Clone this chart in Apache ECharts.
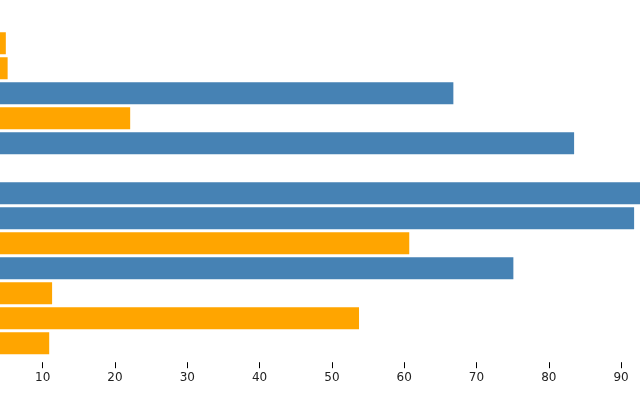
<!DOCTYPE html>
<html>
<head>
<meta charset="utf-8">
<script src="https://cdn.jsdelivr.net/npm/echarts@6/dist/echarts.min.js"></script>
<style>html,body{margin:0;padding:0;background:#fff}#c{width:640px;height:400px}</style>
</head>
<body>
<div id="c"></div>
<script>
var categories = ["a","b","c","d","e","f","g","h","i","j","k","l","m"];
var blueValues = [null,null,66.8,null,83.5,null,94.5,91.8,null,75.1,null,null,null];
var orangeValues = [4.9,5.15,null,22.1,null,null,null,null,60.7,null,11.3,53.75,10.9];
var tickValues = [0,10,20,30,40,50,60,70,80,90,100];

var chart = echarts.init(document.getElementById('c'), null, {renderer:'canvas'});
chart.setOption({
  animation:false,
  grid:{left:-29.6, right:-53.4, top:30.7, height:325, containLabel:false, outerBoundsMode:'none'},
  xAxis:{
    type:'value', min:tickValues[0], max:tickValues[tickValues.length-1], interval:10,
    offset:6.5,
    axisLine:{show:false},
    axisTick:{show:true, length:6, lineStyle:{color:'#000', width:1}},
    splitLine:{show:false},
    axisLabel:{color:'#222', fontSize:12, fontFamily:'DejaVu Sans', margin:10}
  },
  yAxis:{
    type:'category', data:categories, inverse:true, show:false
  },
  series:[
    {name:'blue', type:'bar', data:blueValues, barWidth:22, barGap:'-100%', itemStyle:{color:'#4682b4'}},
    {name:'orange', type:'bar', data:orangeValues, barWidth:22, barGap:'-100%', itemStyle:{color:'#ffa500'}}
  ]
});
</script>
</body>
</html>
